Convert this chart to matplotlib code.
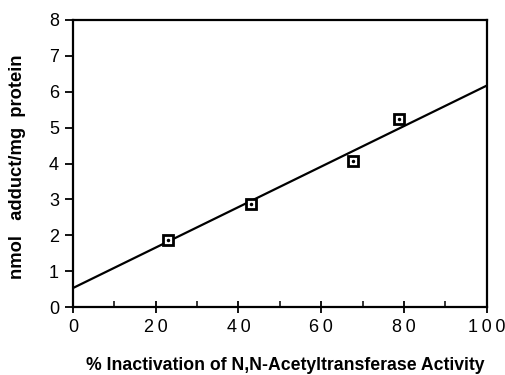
import matplotlib.pyplot as plt

plt.rcParams['font.family'] = ['Liberation Sans', 'DejaVu Sans']

# data
inactivation = [23.0, 43.0, 67.6, 78.7]
adduct = [1.87, 2.87, 4.08, 5.23]

# regression line end points
fit_x = [0, 100]
fit_y = [0.53, 6.17]

x_ticks = [0, 20, 40, 60, 80, 100]

fig = plt.figure(figsize=(5.06, 3.75), dpi=100)
ax = fig.add_axes([0.144, 0.181, 0.818, 0.766])

ax.plot(fit_x, fit_y, color="black", linewidth=1.6, zorder=2)
ax.plot(inactivation, adduct, linestyle="none", marker="s", markersize=7,
        markerfacecolor="white", markeredgecolor="black", markeredgewidth=2, zorder=3)
ax.plot(inactivation, adduct, linestyle="none", marker="o", markersize=1.5,
        color="black", zorder=4)

ax.set_xlim(0, 100)
ax.set_ylim(0, 8)
ax.set_xticks(x_ticks)
ax.set_xticks([10, 30, 50, 70, 90], minor=True)
ax.set_yticks(range(0, 9))
# spaced digits like the original typesetting
ax.set_xticklabels(["\u2009".join(str(t)) for t in x_ticks])

ax.tick_params(axis="x", which="major", direction="inout", length=9, width=1.3,
               labelsize=13, pad=4)
ax.tick_params(axis="x", which="minor", direction="in", length=4, width=1.1)
ax.tick_params(axis="y", direction="out", length=6, width=1.3, labelsize=13, pad=4)

for s in ax.spines.values():
    s.set_linewidth(1.6)

ax.set_xlabel("% Inactivation of N,N-Acetyltransferase Activity",
              fontsize=12.7, fontweight="bold")
ax.xaxis.set_label_coords(0.514, -0.172)
ax.set_ylabel("nmol   adduct/mg  protein", fontsize=13.2, fontweight="bold")
ax.yaxis.set_label_coords(-0.113, 0.49)

plt.savefig("out.png", dpi=100)
